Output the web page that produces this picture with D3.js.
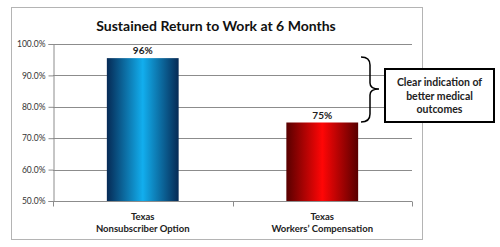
<!DOCTYPE html>
<html>
<head>
<meta charset="utf-8">
<script src="https://cdn.jsdelivr.net/npm/d3@7"></script>
<style>
  body { margin: 0; background: #fff; }
  svg { display: block; font-family: Lato, "Open Sans", sans-serif; }
</style>
</head>
<body>
<div class="svg-container"></div>
<script>
var width = 500;
var height = 247;
var margin = {top: 44, right: 88, bottom: 46, left: 53};

var categories = [["Texas", "Nonsubscriber Option"], ["Texas", "Workers\u2019 Compensation"]];
var values = [95.5, 75];
var valueLabels = ["96%", "75%"];
var yTicks = [50, 60, 70, 80, 90, 100];
var calloutLines = ["Clear indication of", "better medical", "outcomes"];
var title = "Sustained Return to Work at 6 Months";

var gradients = [
  { id: "gBlue", edge: "#062a55", mid: "#12aeee" },
  { id: "gRed", edge: "#580000", mid: "#ff0606" }
];

var svgCanvas = d3.select(".svg-container").append("svg")
                  .attr("width", width)
                  .attr("height", height);

var defs = svgCanvas.append("defs");
gradients.forEach(function(g) {
  var lg = defs.append("linearGradient").attr("id", g.id)
               .attr("x1", "0%").attr("x2", "100%").attr("y1", "0%").attr("y2", "0%");
  lg.append("stop").attr("offset", "0%").attr("stop-color", g.edge);
  lg.append("stop").attr("offset", "50%").attr("stop-color", g.mid);
  lg.append("stop").attr("offset", "100%").attr("stop-color", g.edge);
});

// outer chart frame
svgCanvas.append("rect")
         .attr("x", 11.5).attr("y", 7.5)
         .attr("width", 411).attr("height", 232)
         .attr("fill", "#fff").attr("stroke", "#b4b4b4");

var plotW = width - margin.left - margin.right;   // 359
var plotH = height - margin.top - margin.bottom;  // 157

var x = d3.scaleBand()
          .domain(d3.range(values.length))
          .range([margin.left, margin.left + plotW])
          .paddingInner(0.6)
          .paddingOuter(0.3);

var y = d3.scaleLinear()
          .domain([50, 100])
          .range([margin.top + plotH, margin.top]);

// gridlines
svgCanvas.append("g").selectAll("line")
         .data(yTicks.slice(1))
         .enter().append("line")
         .attr("x1", margin.left).attr("x2", margin.left + plotW)
         .attr("y1", function(d) { return Math.round(y(d)) + 0.5; })
         .attr("y2", function(d) { return Math.round(y(d)) + 0.5; })
         .attr("stroke", "#8c8c8c");

// y axis
var yAxis = svgCanvas.append("g")
                     .attr("transform", "translate(" + (margin.left + 0.5) + ",0)")
                     .call(d3.axisLeft(y).tickValues(yTicks).tickSize(5).tickPadding(3)
                             .tickFormat(function(d) { return d.toFixed(1) + "%"; }));
yAxis.selectAll("path, line").attr("stroke", "#8c8c8c");
yAxis.selectAll("text").attr("font-size", 8.5).attr("fill", "#333")
     .attr("font-family", "Lato, sans-serif");

// x axis (category boundaries ticks)
var xBase = Math.round(y(50)) + 0.5;
var xAxisG = svgCanvas.append("g");
xAxisG.append("line")
      .attr("x1", margin.left).attr("x2", margin.left + plotW)
      .attr("y1", xBase).attr("y2", xBase)
      .attr("stroke", "#8c8c8c");
var boundaries = d3.range(values.length + 1).map(function(i) { return margin.left + i * x.step(); });
xAxisG.selectAll(".bt").data(boundaries).enter().append("line")
      .attr("x1", function(d) { return Math.round(d) + 0.5; })
      .attr("x2", function(d) { return Math.round(d) + 0.5; })
      .attr("y1", xBase).attr("y2", xBase + 5)
      .attr("stroke", "#8c8c8c");

// bars
svgCanvas.selectAll(".bar")
         .data(values)
         .enter().append("rect")
         .attr("class", "bar")
         .attr("x", function(d, i) { return x(i); })
         .attr("width", x.bandwidth())
         .attr("y", function(d) { return y(d); })
         .attr("height", function(d) { return y(50) - y(d); })
         .attr("fill", function(d, i) { return "url(#" + gradients[i].id + ")"; });

// value labels
svgCanvas.selectAll(".vl")
         .data(values)
         .enter().append("text")
         .attr("x", function(d, i) { return x(i) + x.bandwidth() / 2; })
         .attr("y", function(d) { return y(d) - 4; })
         .attr("text-anchor", "middle")
         .attr("font-size", 10).attr("font-weight", "bold").attr("fill", "#222")
         .text(function(d, i) { return valueLabels[i]; });

// category labels
var catG = svgCanvas.selectAll(".cat")
                    .data(categories)
                    .enter().append("text")
                    .attr("text-anchor", "middle")
                    .attr("font-size", 9.5).attr("font-weight", "bold").attr("fill", "#222");
catG.selectAll("tspan")
    .data(function(d, i) { return d.map(function(s) { return {s: s, i: i}; }); })
    .enter().append("tspan")
    .attr("x", function(d) { return x(d.i) + x.bandwidth() / 2; })
    .attr("y", function(d, j) { return 220 + j * 11.5; })
    .text(function(d) { return d.s; });

// title
svgCanvas.append("text")
         .attr("x", 216).attr("y", 31)
         .attr("text-anchor", "middle")
         .attr("font-size", 14).attr("font-weight", "bold").attr("fill", "#111")
         .text(title);

// brace
var bTop = 57, bBot = 122, bMid = 89, bx0 = 361, bx1 = 370, bx2 = 379;
var brace = d3.path();
brace.moveTo(bx0, bTop);
brace.quadraticCurveTo(bx1, bTop, bx1, bTop + 8);
brace.lineTo(bx1, bMid - 6);
brace.quadraticCurveTo(bx1, bMid, bx2, bMid);
brace.quadraticCurveTo(bx1, bMid, bx1, bMid + 6);
brace.lineTo(bx1, bBot - 8);
brace.quadraticCurveTo(bx1, bBot, bx0, bBot);
svgCanvas.append("path").attr("d", brace.toString())
         .attr("fill", "none").attr("stroke", "#000").attr("stroke-width", 1.5);

// callout box
svgCanvas.append("rect")
         .attr("x", 385).attr("y", 69).attr("width", 109).attr("height", 53)
         .attr("fill", "#fff").attr("stroke", "#000").attr("stroke-width", 2);
svgCanvas.append("g").selectAll("text")
         .data(calloutLines)
         .enter().append("text")
         .attr("x", 439.5)
         .attr("y", function(d, i) { return 86 + i * 13.5; })
         .attr("text-anchor", "middle")
         .attr("font-size", 10.5).attr("font-weight", "bold").attr("fill", "#222")
         .text(function(d) { return d; });
</script>
</body>
</html>
